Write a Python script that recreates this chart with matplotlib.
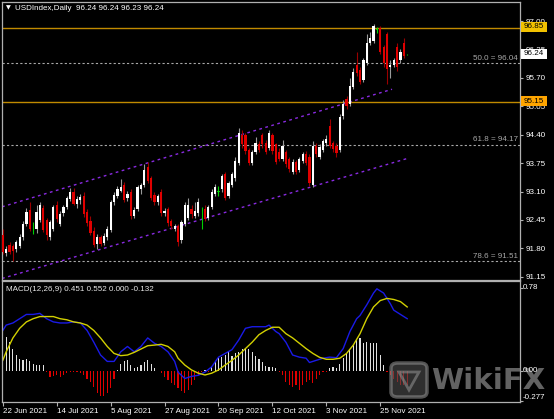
import matplotlib.pyplot as plt
from matplotlib.patches import Rectangle, FancyBboxPatch, Polygon

plt.rcParams['font.family'] = ['Liberation Sans', 'DejaVu Sans']

# ---- daily candles (bar index 0 = 22 Jun 2021) ----
opens = [92.10, 91.70, 91.88, 91.86, 91.78, 91.85, 92.05, 92.35, 92.68, 92.30,
         92.25, 92.45, 92.72, 92.45, 92.05, 92.25, 92.80, 92.35, 92.60, 92.75,
         92.92, 93.10, 92.82, 92.90, 93.00, 92.62, 92.42, 92.20, 91.90, 92.05,
         91.92, 92.05, 92.22, 92.85, 93.00, 93.12, 93.25, 92.95, 93.10, 92.55,
         92.70, 93.15, 93.25, 93.65, 93.40, 93.02, 92.85, 93.10, 92.60, 92.70,
         92.42, 92.25, 92.30, 91.98, 92.35, 92.50, 92.70, 92.55, 92.60, 92.62,
         92.70, 92.50, 92.75, 93.05, 93.10, 93.15, 93.50, 93.00, 93.25, 93.40,
         93.75, 94.40, 94.40, 94.05, 93.75, 94.00, 94.18, 94.40, 94.22, 94.10,
         94.40, 94.18, 94.00, 93.85, 94.00, 93.85, 93.55, 93.78, 93.60, 93.80,
         93.95, 93.90, 93.25, 94.15, 93.90, 94.05, 94.20, 94.60, 94.20, 94.15,
         94.05, 94.82, 95.22, 95.10, 95.50, 96.00, 95.88, 95.65, 96.05, 96.50,
         96.55, 96.80, 96.85, 96.40, 96.70, 95.95, 96.00, 96.40, 96.10, 96.50,
         96.24]
highs = [92.25, 91.85, 91.95, 91.90, 92.00, 92.12, 92.42, 92.72, 92.85, 92.40,
         92.80, 92.85, 92.78, 92.50, 92.45, 92.80, 92.88, 92.65, 92.80, 93.00,
         93.18, 93.18, 93.00, 93.05, 93.08, 92.70, 92.55, 92.28, 92.12, 92.10,
         92.15, 92.30, 92.90, 93.10, 93.22, 93.38, 93.32, 93.12, 93.15, 92.75,
         93.25, 93.30, 93.72, 93.78, 93.45, 93.10, 93.05, 93.15, 92.72, 92.75,
         92.48, 92.35, 92.35, 92.45, 92.85, 92.95, 92.78, 92.85, 92.95, 92.75,
         92.78, 92.80, 93.15, 93.28, 93.22, 93.50, 93.55, 93.35, 93.55, 93.90,
         94.55, 94.50, 94.45, 94.10, 94.05, 94.35, 94.25, 94.45, 94.28, 94.50,
         94.45, 94.22, 94.10, 94.28, 94.05, 93.90, 93.85, 93.82, 93.90, 94.00,
         94.02, 93.95, 94.25, 94.20, 94.18, 94.30, 94.40, 94.75, 94.25, 94.20,
         94.88, 95.20, 95.28, 95.70, 95.92, 96.30, 95.95, 96.15, 96.70, 96.75,
         96.93, 96.86, 96.88, 96.45, 96.75, 96.10, 96.15, 96.50, 96.35, 96.62,
         96.24]
lows = [91.66, 91.62, 91.66, 91.50, 91.72, 91.80, 92.00, 92.30, 92.20, 92.12,
        92.15, 92.40, 92.18, 92.00, 91.98, 92.20, 92.40, 92.30, 92.55, 92.70,
        92.88, 92.78, 92.72, 92.82, 92.52, 92.30, 92.10, 91.82, 91.78, 91.85,
        91.88, 91.98, 92.18, 92.80, 92.95, 93.08, 92.85, 92.88, 92.48, 92.50,
        92.65, 93.05, 93.20, 93.30, 92.90, 92.80, 92.78, 92.55, 92.55, 92.30,
        92.25, 92.20, 91.85, 91.92, 92.30, 92.45, 92.50, 92.50, 92.55, 92.25,
        92.42, 92.45, 92.70, 93.00, 93.00, 93.10, 92.90, 92.95, 93.20, 93.35,
        93.70, 94.10, 93.95, 93.70, 93.70, 93.95, 94.00, 94.10, 93.95, 94.05,
        93.95, 93.72, 93.80, 93.80, 93.65, 93.55, 93.50, 93.50, 93.55, 93.75,
        93.70, 93.22, 93.20, 93.90, 93.85, 94.00, 94.15, 94.10, 94.00, 93.90,
        94.00, 94.75, 94.98, 95.05, 95.45, 95.75, 95.55, 95.60, 96.00, 96.45,
        96.50, 96.72, 96.25, 95.95, 95.55, 95.70, 95.95, 95.85, 96.05, 96.15,
        96.23]
closes = [91.72, 91.78, 91.72, 91.74, 91.95, 92.05, 92.35, 92.62, 92.25, 92.30,
          92.62, 92.79, 92.22, 92.10, 92.40, 92.75, 92.48, 92.58, 92.75, 92.95,
          93.10, 92.82, 92.92, 92.98, 92.58, 92.38, 92.15, 91.88, 92.05, 91.90,
          92.08, 92.25, 92.85, 93.02, 93.15, 93.20, 92.90, 93.05, 92.55, 92.68,
          93.20, 93.25, 93.60, 93.35, 92.95, 92.85, 93.00, 92.60, 92.65, 92.38,
          92.30, 92.30, 91.95, 92.40, 92.80, 92.80, 92.58, 92.65, 92.85, 92.62,
          92.48, 92.75, 93.08, 93.20, 93.10, 93.45, 92.95, 93.30, 93.50, 93.80,
          94.45, 94.18, 94.02, 93.75, 94.00, 94.20, 94.05, 94.18, 94.00, 94.45,
          94.02, 93.78, 93.85, 94.15, 93.72, 93.62, 93.78, 93.55, 93.85, 93.95,
          93.75, 93.30, 94.15, 93.95, 94.12, 94.25, 94.30, 94.15, 94.08, 93.98,
          94.80, 95.10, 95.05, 95.52, 95.83, 95.82, 95.60, 96.10, 96.50, 96.62,
          96.88, 96.80, 96.30, 96.05, 95.90, 96.00, 96.12, 95.95, 96.30, 96.20,
          96.24]

# ---- MACD(12,26,9) panel ----
hist_vals = [0.38, 0.32, 0.27, 0.206, 0.15, 0.11, 0.10, 0.11, 0.094, 0.07,
             0.056, 0.056, 0.056, -0.006, -0.053, -0.047, -0.037, -0.053, -0.037, -0.02,
             -0.006, -0.012, -0.012, -0.02, -0.037, -0.07, -0.10, -0.147, -0.21, -0.23,
             -0.23, -0.21, -0.16, -0.07, 0.005, 0.07, 0.094, 0.10, 0.06, 0.025,
             0.04, 0.056, 0.087, 0.10, 0.07, 0.025, 0.003, -0.02, -0.053, -0.084,
             -0.115, -0.13, -0.16, -0.19, -0.21, -0.18, -0.13, -0.084, -0.037, -0.006,
             0.01, -0.006, 0.04, 0.08, 0.125, 0.134, 0.15, 0.175, 0.144, 0.165,
             0.18, 0.206, 0.22, 0.206, 0.175, 0.144, 0.11, 0.08, 0.05, 0.04,
             0.04, 0.025, -0.012, -0.037, -0.10, -0.13, -0.147, -0.13, -0.18, -0.13,
             -0.10, -0.084, -0.115, -0.07, -0.037, -0.012, -0.006, 0.03, 0.04, 0.025,
             0.07, 0.12, 0.165, 0.197, 0.243, 0.29, 0.306, 0.26, 0.275, 0.265,
             0.26, 0.26, 0.15, 0.06, -0.006, -0.037, -0.07, -0.10, -0.13, -0.13,
             -0.132]
macd_bars = [0, 1, 3, 5, 7, 9, 11, 13, 15, 17, 19, 21, 23, 25, 27, 29, 31, 33, 35, 37,
             39, 41, 43, 45, 47, 49, 51, 52, 54, 56, 58, 60, 62, 64, 66, 68, 70, 72, 74, 76,
             78, 79, 81, 82, 84, 86, 88, 90, 91, 93, 95, 97, 99, 101, 103, 105, 106, 108, 110,
             111, 113, 115, 116, 118, 120]
macd_vals = [0.38, 0.43, 0.45, 0.49, 0.53, 0.53, 0.54, 0.49, 0.46, 0.45, 0.45, 0.46, 0.45,
             0.38, 0.27, 0.15, 0.09, 0.09, 0.18, 0.23, 0.18, 0.23, 0.31, 0.26, 0.23, 0.18,
             0.09, -0.01, -0.07, -0.05, -0.04, -0.01, 0.04, 0.13, 0.165, 0.20, 0.29, 0.40,
             0.415, 0.415, 0.415, 0.43, 0.37, 0.35, 0.27, 0.15, 0.13, 0.12, 0.08, 0.10, 0.12,
             0.13, 0.125, 0.21, 0.37, 0.49, 0.52, 0.62, 0.73, 0.77, 0.73, 0.63, 0.57, 0.53,
             0.49]
sig_bars = [0, 1, 3, 5, 7, 9, 11, 13, 15, 17, 19, 21, 23, 25, 27, 29, 31, 33, 35, 37,
            39, 41, 43, 45, 47, 49, 51, 52, 54, 56, 58, 60, 62, 64, 66, 68, 70, 72, 74, 76,
            78, 80, 82, 84, 86, 88, 90, 92, 94, 96, 98, 100, 102, 104, 106, 108, 110, 112,
            114, 116, 118, 120]
sig_vals = [0.10, 0.18, 0.31, 0.40, 0.46, 0.49, 0.51, 0.51, 0.51, 0.49, 0.48, 0.46, 0.45,
            0.43, 0.38, 0.31, 0.23, 0.165, 0.144, 0.15, 0.175, 0.206, 0.237, 0.243, 0.25,
            0.23, 0.18, 0.12, 0.056, 0.01, -0.02, -0.037, -0.02, 0.01, 0.056, 0.10, 0.15,
            0.21, 0.27, 0.34, 0.38, 0.41, 0.41, 0.35, 0.31, 0.26, 0.21, 0.165, 0.128, 0.11,
            0.11, 0.12, 0.165, 0.243, 0.35, 0.49, 0.60, 0.66, 0.68, 0.67, 0.65, 0.60]

# ---- axis labels / objects ----
price_ticks = [97.00, 96.35, 95.70, 95.05, 94.40, 93.75, 93.10, 92.45, 91.80, 91.15]
date_bars = [0, 16, 32, 48, 64, 80, 96, 112]
date_labels = ['22 Jun 2021', '14 Jul 2021', '5 Aug 2021', '27 Aug 2021',
               '20 Sep 2021', '12 Oct 2021', '3 Nov 2021', '25 Nov 2021']
fib_levels = [96.04, 94.17, 91.51]
fib_names = ['50.0', '61.8', '78.6']
sr_levels = [96.85, 95.15]
sr_colors = ['#f2c200', '#ffa500']
last_price = 96.24
chan_up_x, chan_up_y = [-0.24, 115.5], [92.75, 95.44]
chan_lo_x, chan_lo_y = [-0.24, 120.2], [91.11, 93.86]

W, H = 554, 419
P_LO, P_HI = 91.075, 97.437
M_LO, M_HI = -0.29, 0.843
FS = 5.8
BORDER = '#b0b0b0'

fig = plt.figure(figsize=(W / 100, H / 100), dpi=100, facecolor='black')


def px_axes(x0, y0, x1, y1):
    a = fig.add_axes([x0 / W, 1 - y1 / H, (x1 - x0) / W, (y1 - y0) / H])
    a.set_facecolor('black')
    for s in a.spines.values():
        s.set_color(BORDER)
        s.set_linewidth(0.9)
    return a


def price_py(p):
    return 2 + (P_HI - p) / (P_HI - P_LO) * 278


ax = px_axes(2, 2, 520, 280)
ax2 = px_axes(2, 281, 520, 402)
ax.set_xlim(-0.24, 153.47)
ax2.set_xlim(-0.24, 153.47)
ax.set_ylim(P_LO, P_HI)
ax2.set_ylim(M_LO, M_HI)

# horizontal levels
for lv in sr_levels:
    ax.axhline(lv, color='#c08a00', lw=1.0, zorder=1)
for lv, nm in zip(fib_levels, fib_names):
    ax.axhline(lv, color='#a8a8a8', lw=0.8, dashes=(2, 2), zorder=1)
    ax.text(0.996, lv + 0.03, f'{nm} = {lv:.2f}', transform=ax.get_yaxis_transform(),
            ha='right', va='bottom', color='#a8a8a8', fontsize=FS)

# channel
ax.plot(chan_up_x, chan_up_y, color='#8a2be2', lw=1.0, dashes=(2, 2.5), zorder=1)
ax.plot(chan_lo_x, chan_lo_y, color='#8a2be2', lw=1.0, dashes=(2, 2.5), zorder=1)

# candles
for i, (o, h, l, c) in enumerate(zip(opens, highs, lows, closes)):
    if c > o:
        body, wick = '#ffffff', '#9a9a9a'
    elif c < o:
        body, wick = '#e00000', '#9a0000'
    else:
        body, wick = '#00d000', '#00d000'
    ax.vlines(i, l, h, color=wick, lw=0.8, zorder=3)
    ax.bar(i, max(abs(c - o), 0.015), bottom=min(o, c), width=0.66,
           color=body, linewidth=0, zorder=4)

# right price scale
ax.yaxis.tick_right()
ax.set_yticks(price_ticks)
ax.set_yticklabels([f'{v:.2f}' for v in price_ticks])
ax.tick_params(axis='y', colors=BORDER, labelcolor='white', labelsize=FS,
               length=2.5, width=0.8, pad=1.5)
ax.set_xticks([])

# highlighted price boxes
for lv, c in zip(sr_levels + [last_price], sr_colors + ['#ffffff']):
    py = price_py(lv) - 0.8
    fig.patches.append(Rectangle((521 / W, 1 - (py + 5) / H), 26 / W, 10 / H,
                                 transform=fig.transFigure, facecolor=c,
                                 edgecolor='none', zorder=10))
    fig.text(523.5 / W, 1 - py / H, f'{lv:.2f}', ha='left', va='center',
             color='black', fontsize=FS, zorder=11)

# header
fig.text(8 / W, 1 - 8 / H, '\u25bc', ha='center', va='center', color='white',
         fontsize=4.5, family=['DejaVu Sans'])
fig.text(15 / W, 1 - 8 / H, 'USDIndex,Daily  96.24 96.24 96.23 96.24',
         ha='left', va='center', color='white', fontsize=FS)

# MACD panel
hist_cols = ['#e0e0e0' if v >= 0 else '#e00000' for v in hist_vals]
ax2.bar(range(len(hist_vals)), hist_vals, width=0.34, color=hist_cols, linewidth=0)
ax2.plot(macd_bars, macd_vals, color='#1a1ae6', lw=1.0)
ax2.plot(sig_bars, sig_vals, color='#d2d000', lw=1.0)
ax2.text(0.008, 0.93, 'MACD(12,26,9) 0.451 0.552 0.000 -0.132', transform=ax2.transAxes,
         ha='left', va='center', color='#e8e8e8', fontsize=FS)

ax2.yaxis.tick_right()
ax2.set_yticks([0.78, 0.0, -0.277])
ax2.set_yticklabels([])
ax2.tick_params(axis='y', colors=BORDER, length=2.5, width=0.8)
for txt, py in [('0.78', 287.7), ('0.00', 371), ('-0.277', 397)]:
    fig.text(523 / W, 1 - py / H, txt, ha='left', va='center', color='white',
             fontsize=FS, zorder=30)

ax2.set_xticks(date_bars)
ax2.set_xticklabels(date_labels, ha='left')
ax2.tick_params(axis='x', colors=BORDER, labelcolor='white', labelsize=FS,
                length=3, width=0.8, pad=1)

# watermark
fig.patches.append(FancyBboxPatch((391 / W, 1 - 397 / H), 36 / W, 34 / H,
                                  boxstyle='round,pad=0,rounding_size=0.012',
                                  transform=fig.transFigure, facecolor='#505050',
                                  edgecolor='#8c8c8c', linewidth=2.5, alpha=0.6, zorder=20))
fig.patches.append(Polygon([(399 / W, 1 - 372 / H), (419 / W, 1 - 372 / H),
                            (409 / W, 1 - 390 / H)], closed=True, transform=fig.transFigure,
                           facecolor='none', edgecolor='#8c8c8c', linewidth=2.0,
                           alpha=0.6, zorder=21))
fig.text(431 / W, 1 - 381 / H, 'WikiFX', ha='left', va='center', color='#8c8c8c',
         fontsize=21, fontweight='bold', family=['DejaVu Sans'], alpha=0.7, zorder=22)

fig.savefig('out.png', dpi=100, facecolor='black')
